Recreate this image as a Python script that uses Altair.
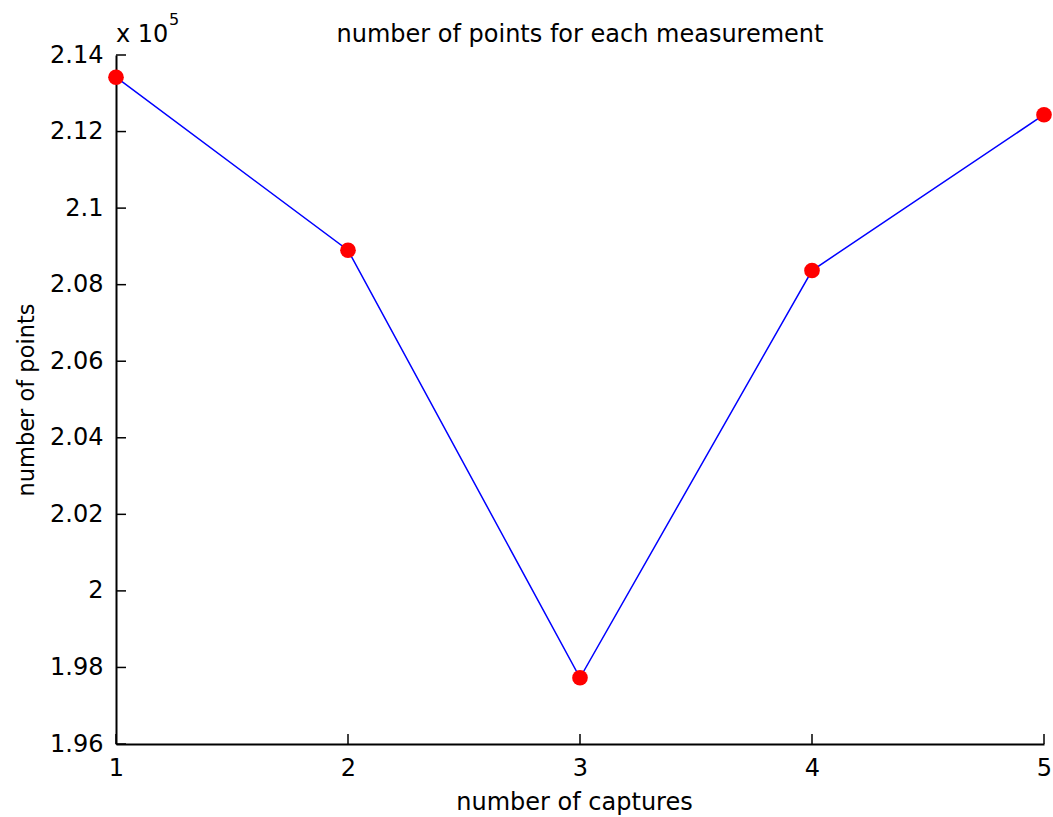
import altair as alt
import pandas as pd

# Number of captured points per measurement
captures = [1, 2, 3, 4, 5]
points = [213420, 208900, 197730, 208370, 212440]

# Axis tick positions
x_ticks = [1, 2, 3, 4, 5]
y_ticks = [196000, 198000, 200000, 202000, 204000, 206000, 208000, 210000, 212000, 214000]

FONT = "DejaVu Sans"
W, H = 928, 689
TICK_LEN = 10

df = pd.DataFrame({"captures": captures, "points": points})
xt = pd.DataFrame({"captures": x_ticks})
yt = pd.DataFrame({"points": y_ticks})

xs = alt.Scale(domain=[x_ticks[0], x_ticks[-1]], nice=False, zero=False)
ys = alt.Scale(domain=[y_ticks[0], y_ticks[-1]], nice=False, zero=False)

x_axis = alt.Axis(
    values=x_ticks, format="d", ticks=False, tickSize=0, grid=False,
    domainColor="black", domainWidth=2,
    labelFont=FONT, labelFontSize=24, labelColor="black",
    labelBaseline="alphabetic", labelPadding=31, labelFlush=False, labelOverlap=False,
    title="number of captures", titleFont=FONT, titleFontSize=24,
    titleFontWeight="normal", titleColor="black",
    titleX=458, titleY=65, titleBaseline="alphabetic", titleAlign="center",
)
y_axis = alt.Axis(
    values=y_ticks, labelExpr="format(datum.value / 100000, '~g')",
    ticks=False, tickSize=0, grid=False,
    domainColor="black", domainWidth=2,
    labelFont=FONT, labelFontSize=24, labelColor="black",
    labelBaseline="middle", labelPadding=13, labelFlush=False, labelOverlap=False,
    title="number of points", titleFont=FONT, titleFontSize=22.5,
    titleFontWeight="normal", titleColor="black",
    titleX=-83, titleY=H / 2, titleAngle=270,
    titleBaseline="alphabetic", titleAlign="center",
)

line = alt.Chart(df).mark_line(color="#0000ff", strokeWidth=1.5).encode(
    x=alt.X("captures:Q", scale=xs, axis=x_axis),
    y=alt.Y("points:Q", scale=ys, axis=y_axis),
)

dots = alt.Chart(df).mark_circle(color="#ff0000", opacity=1, size=245).encode(
    x=alt.X("captures:Q", scale=xs),
    y=alt.Y("points:Q", scale=ys),
)

# inward tick marks, MATLAB style
x_tick_marks = alt.Chart(xt).mark_rule(color="black", strokeWidth=1.5).encode(
    x=alt.X("captures:Q", scale=xs),
    y=alt.value(H),
    y2=alt.value(H - TICK_LEN),
)
y_tick_marks = alt.Chart(yt).mark_rule(color="black", strokeWidth=1.5).encode(
    y=alt.Y("points:Q", scale=ys),
    x=alt.value(0),
    x2=alt.value(TICK_LEN),
)

# exponent label above the y axis
exp_base = alt.Chart(pd.DataFrame({"s": ["x 10"]})).mark_text(
    font=FONT, fontSize=24, color="black", align="left", baseline="alphabetic"
).encode(text="s:N", x=alt.value(0), y=alt.value(-13))
exp_pow = alt.Chart(pd.DataFrame({"s": ["5"]})).mark_text(
    font=FONT, fontSize=16, color="black", align="left", baseline="alphabetic"
).encode(text="s:N", x=alt.value(53), y=alt.value(-30))

chart = alt.layer(line, x_tick_marks, y_tick_marks, dots, exp_base, exp_pow).properties(
    width=W,
    height=H,
    autosize=alt.AutoSizeParams(type="none"),
    padding={"left": 116, "top": 55, "right": 9, "bottom": 73},
    background="white",
    title=alt.TitleParams(
        text="number of points for each measurement",
        font=FONT, fontSize=24, fontWeight="normal", color="black",
        anchor="middle", frame="group", baseline="alphabetic", offset=-29, dy=25,
    ),
).configure_view(stroke=None)

chart.save("out.html", embed_options={"renderer": "svg", "actions": False})
